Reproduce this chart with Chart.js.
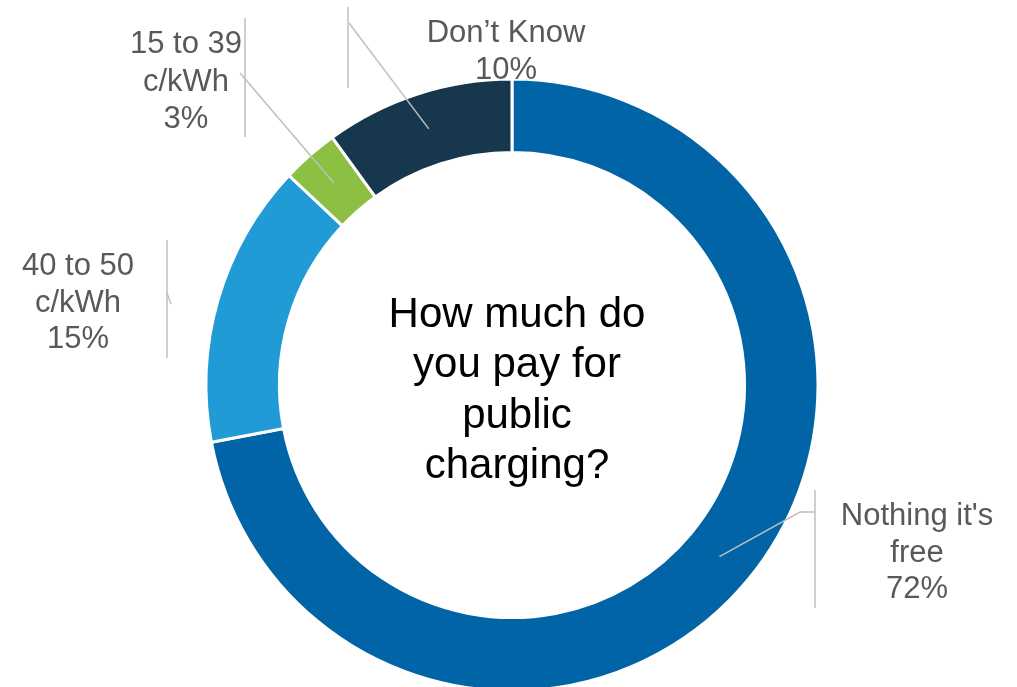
<!DOCTYPE html>
<html lang="en">
<head>
  <title>Public Charging Cost</title>
  <script src="https://cdn.jsdelivr.net/npm/chart.js"></script>
  <style>
    html, body { margin: 0; padding: 0; background: #fff; overflow: hidden; }
    .wrap { width: 1017px; height: 720px; }
  </style>
</head>
<body>
<div class="wrap">
  <canvas id="costChart" width="1017" height="720"></canvas>
</div>
<script>
  const categories = [["Nothing it's", "free"], ["40 to 50", "c/kWh"], ["15 to 39", "c/kWh"], ["Don’t Know"]];
  const shares = [72, 15, 3, 10];
  const sliceColors = ['#0064A7', '#219BD6', '#8DBF43', '#17374F'];
  const centerTitle = ['How much do', 'you pay for', 'public', 'charging?'];

  // where each label block sits and how its leader bar runs
  const callouts = [
    { x: 917, baselines: [525, 562, 598], bar: [815, 490, 608], path: [[815, 512], [800, 512]], toSlice: true },
    { x: 78, baselines: [275, 312, 348], bar: [167, 240, 358], path: [[167, 293], [171, 304]], toSlice: false },
    { x: 186, baselines: [53, 91, 128], bar: [245, 18, 137], path: [[240, 73]], toSlice: true },
    { x: 506, baselines: [42, 79], bar: [348, 7, 88], path: [[349, 23]], toSlice: true }
  ];

  const calloutPlugin = {
    id: 'callouts',
    afterDatasetsDraw(chart) {
      const ctx = chart.ctx;
      const meta = chart.getDatasetMeta(0);
      ctx.save();
      meta.data.forEach((arc, i) => {
        const p = arc.getProps(['x', 'y', 'startAngle', 'endAngle', 'innerRadius', 'outerRadius'], true);
        const mid = (p.startAngle + p.endAngle) / 2;
        const r = (p.innerRadius + p.outerRadius) / 2;
        const c = callouts[i];

        ctx.strokeStyle = '#BFBFBF';
        ctx.lineWidth = 1.5;
        ctx.beginPath();
        ctx.moveTo(c.bar[0], c.bar[1]);
        ctx.lineTo(c.bar[0], c.bar[2]);
        ctx.stroke();

        ctx.beginPath();
        ctx.moveTo(c.path[0][0], c.path[0][1]);
        c.path.slice(1).forEach(pt => ctx.lineTo(pt[0], pt[1]));
        if (c.toSlice) {
          ctx.lineTo(p.x + Math.cos(mid) * r, p.y + Math.sin(mid) * r);
        }
        ctx.stroke();

        const lines = categories[i].concat([shares[i] + '%']);
        ctx.fillStyle = '#595959';
        ctx.font = '31px "Liberation Sans", Arial, sans-serif';
        ctx.textAlign = 'center';
        ctx.textBaseline = 'alphabetic';
        lines.forEach((t, k) => ctx.fillText(t, c.x, c.baselines[k]));
      });

      // question in the hole
      const cx = meta.data[0].x;
      ctx.fillStyle = '#000';
      ctx.font = '42px "Liberation Sans", Arial, sans-serif';
      ctx.textAlign = 'center';
      centerTitle.forEach((t, k) => ctx.fillText(t, cx + 5, 327 + k * 50.3));
      ctx.restore();
    }
  };

  new Chart(document.getElementById('costChart'), {
    type: 'doughnut',
    data: {
      labels: categories,
      datasets: [{
        data: shares,
        backgroundColor: sliceColors,
        borderColor: '#ffffff',
        borderWidth: 3
      }]
    },
    options: {
      responsive: false,
      animation: false,
      cutout: '76%',
      layout: { padding: { left: 204.5, right: 197.5, top: 77.5, bottom: 27.5 } },
      plugins: {
        legend: { display: false },
        tooltip: { enabled: false }
      }
    },
    plugins: [calloutPlugin]
  });
</script>
</body>
</html>
